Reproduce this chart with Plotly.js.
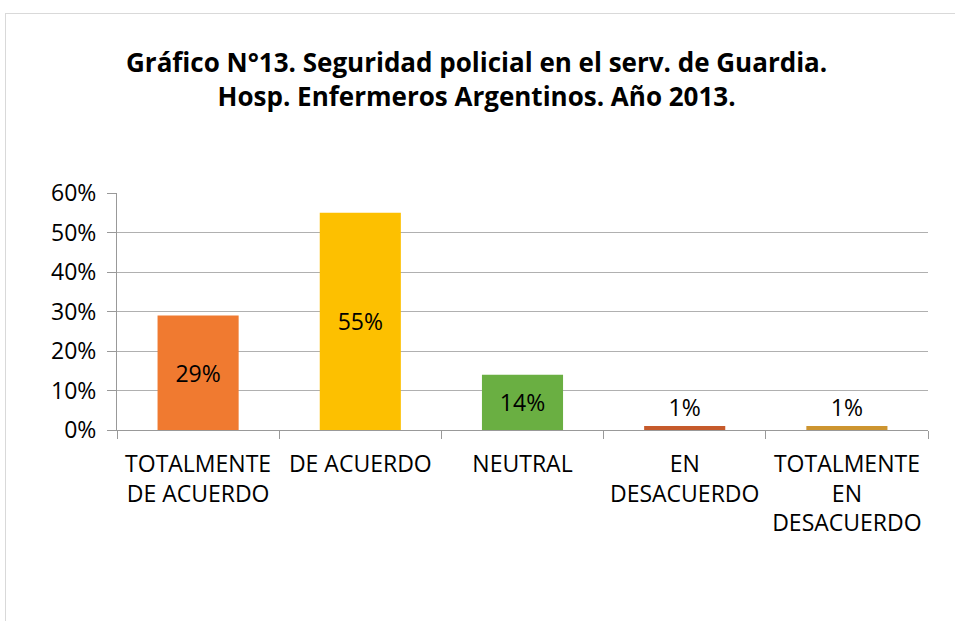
<!DOCTYPE html>
<html><head><meta charset="utf-8">
<script src="https://cdn.plot.ly/plotly-3.0.1.min.js"></script>
<style>
html,body{margin:0;padding:0;background:#fff;}
#wrap{position:relative;width:955px;height:621px;overflow:hidden;}
#chart{width:955px;height:621px;}
#frame{position:absolute;left:5px;top:13px;width:1000px;height:700px;border:1px solid #d9d9d9;pointer-events:none;}
</style></head>
<body>
<div id="wrap"><div id="chart"></div><div id="frame"></div></div>
<script>
const categories = ["TOTALMENTE<br>DE ACUERDO", "DE ACUERDO", "NEUTRAL", "EN<br>DESACUERDO", "TOTALMENTE<br>EN<br>DESACUERDO"];
const values = [0.29, 0.55, 0.14, 0.01, 0.01];
const labels = ["29%", "55%", "14%", "1%", "1%"];
const colors = ["#F07A30", "#FDC000", "#6AAF42", "#C65A2B", "#CD9530"];
const tickVals = [0, 0.1, 0.2, 0.3, 0.4, 0.5, 0.6];
const tickText = ["0%", "10%", "20%", "30%", "40%", "50%", "60%"];
const titleText = "<b>Gráfico N°13. Seguridad policial en el serv. de Guardia.<br>Hosp. Enfermeros Argentinos. Año 2013.</b>";

const F = "Open Sans, Noto Sans, sans-serif";
const trace = {
  type: "bar",
  x: categories,
  y: values,
  text: labels,
  textposition: ["inside", "inside", "inside", "outside", "outside"],
  insidetextanchor: "middle",
  textangle: 0,
  textfont: {family: F, size: 23, color: "#000"},
  outsidetextfont: {family: F, size: 23, color: "#000"},
  insidetextfont: {family: F, size: 23, color: "#000"},
  cliponaxis: false,
  marker: {color: colors, line: {width: 0}},
  width: 0.5,
  hoverinfo: "skip"
};
const layout = {
  width: 955, height: 621,
  margin: {l: 117, r: 27, t: 193, b: 191},
  paper_bgcolor: "#fff", plot_bgcolor: "#fff",
  showlegend: false,
  annotations: [{
    text: titleText,
    font: {family: F, size: 26, color: "#000"},
    xref: "paper", yref: "paper",
    x: (476 - 117) / 811, y: (430 - 79) / 237,
    xanchor: "center", yanchor: "middle",
    showarrow: false, align: "center"
  }],
  xaxis: {
    type: "category",
    tickson: "boundaries",
    ticks: "outside", ticklen: 8, tickcolor: "#999", tickwidth: 1,
    ticklabelstandoff: 13,
    showline: true, linecolor: "#999", linewidth: 1,
    showgrid: false,
    tickfont: {family: F, size: 23, color: "#000"},
    fixedrange: true
  },
  yaxis: {
    range: [0, 0.6],
    tickvals: tickVals, ticktext: tickText,
    ticks: "outside", ticklen: 9, tickcolor: "#999",
    ticklabelstandoff: 6,
    showline: true, linecolor: "#999", linewidth: 1,
    showgrid: true, gridcolor: "#b0b0b0", gridwidth: 1,
    zeroline: false,
    tickfont: {family: F, size: 23, color: "#000"},
    fixedrange: true
  }
};
Plotly.newPlot("chart", [trace], layout, {displayModeBar: false, staticPlot: true});
</script>
</body></html>
